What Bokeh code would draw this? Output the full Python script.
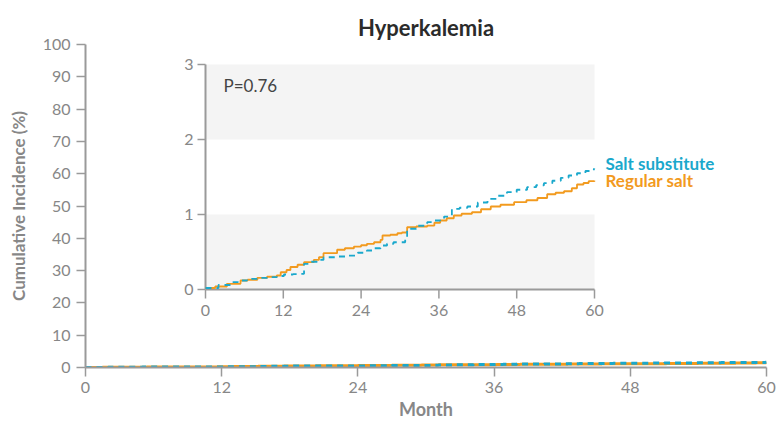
import math
from bokeh.plotting import figure
from bokeh.models import Range1d, Label
from bokeh.core.properties import value
from bokeh.embed import file_html
from bokeh.resources import INLINE

# ---------------- data ----------------
title_text = "Hyperkalemia"
x_ticks = [0, 12, 24, 36, 48, 60]
y_ticks_main = [0, 10, 20, 30, 40, 50, 60, 70, 80, 90, 100]
y_ticks_inset = [0, 1, 2, 3]
inset_bands_bottom = [0, 2]
inset_bands_top = [1, 3]

regular_month = [0, 1.5, 3.3, 5.4, 6.5, 8, 9.5, 11, 11.6, 12.5, 13.1, 14.2, 15.2, 16.7,
                 17.5, 18.2, 20.3, 21.5, 22.9, 24.0, 24.9, 26, 27, 27.3, 28.5, 29.6,
                 30.3, 31.1, 32.5, 34.2, 35.3, 36.2, 37.2, 38.3, 39.5, 41.1, 42.5, 44,
                 45.5, 47.6, 49.5, 51.2, 52.7, 54, 55.3, 56.5, 57.3, 58.3, 59.1, 60]
regular_pct = [0.02, 0.04, 0.076, 0.12, 0.13, 0.156, 0.17, 0.187, 0.23, 0.26, 0.30, 0.33,
               0.364, 0.395, 0.43, 0.484, 0.53, 0.55, 0.573, 0.59, 0.609, 0.63, 0.662,
               0.72, 0.73, 0.75, 0.76, 0.83, 0.84, 0.853, 0.89, 0.92, 0.95, 0.987, 1.01,
               1.03, 1.07, 1.107, 1.13, 1.164, 1.19, 1.22, 1.27, 1.29, 1.31, 1.35, 1.40,
               1.42, 1.444, 1.45]

substitute_month = [0, 2, 3.9, 5, 6.4, 8, 9.5, 11, 12.1, 13.5, 14.7, 15.2, 16.2, 17.2,
                    18.2, 20, 21.9, 23.5, 24.9, 26, 27, 28, 29, 30.8, 31.1, 32.5, 34.2,
                    35.2, 36.2, 36.8, 38, 39.2, 40.4, 42, 43.5, 45, 46.5, 48, 49.6, 51,
                    52.2, 53.5, 54.8, 56, 57.3, 58.6, 59.9, 60]
substitute_pct = [0.02, 0.06, 0.098, 0.12, 0.142, 0.155, 0.164, 0.18, 0.2, 0.205, 0.209,
                  0.342, 0.37, 0.395, 0.43, 0.44, 0.453, 0.49, 0.52, 0.55, 0.587, 0.61,
                  0.63, 0.676, 0.81, 0.85, 0.898, 0.92, 0.942, 0.973, 1.076, 1.09, 1.107,
                  1.16, 1.209, 1.25, 1.298, 1.33, 1.364, 1.39, 1.418, 1.45, 1.489, 1.52,
                  1.55, 1.58, 1.609, 1.61]

p_value_text = "P=0.76"
series_names = ["Salt substitute", "Regular salt"]

# ---------------- style ----------------
FONT = "Lato"
GREY = "#878787"
AXIS_GREY = "#9a9a9a"
CYAN = "#1aa8cc"
ORANGE = "#f29a1e"
BAND = "#f4f4f4"

W, H = 783, 423
ML, MR, MT, MB = 85, 17, 44, 56
frame_w = W - ML - MR
frame_h = H - MT - MB

# inset placement in frame pixels (from frame left / frame bottom)
inset_x0_px, inset_x1_px = 120, 509      # month 0 .. 60
inset_y0_px, inset_y1_px = 78, 303       # 0 .. 3 %

ix_scale = (inset_x1_px - inset_x0_px) / 60.0
iy_scale = (inset_y1_px - inset_y0_px) / 3.0
ix_start = -inset_x0_px / ix_scale
ix_end = (frame_w - inset_x0_px) / ix_scale
iy_start = -inset_y0_px / iy_scale
iy_end = (frame_h - inset_y0_px) / iy_scale

p = figure(width=W, height=H, output_backend="svg", toolbar_location=None,
           x_range=Range1d(0, 60), y_range=Range1d(0, 100),
           min_border_left=ML, min_border_right=MR, min_border_top=MT,
           min_border_bottom=MB, outline_line_color=None)
p.extra_x_ranges = {"ix": Range1d(ix_start, ix_end)}
p.extra_y_ranges = {"iy": Range1d(iy_start, iy_end)}

p.title.text = title_text
p.title.align = "center"
p.title.text_font = FONT
p.title.text_font_size = "22px"
p.title.text_font_style = "bold"
p.title.text_color = "#2b2b2b"
p.title.text_line_height = 0.7
p.title.standoff = 8

p.grid.visible = False
p.background_fill_color = "white"

for ax in (p.xaxis[0], p.yaxis[0]):
    ax.axis_line_color = AXIS_GREY
    ax.axis_line_width = 2
    ax.major_tick_line_color = AXIS_GREY
    ax.major_tick_line_width = 1.5
    ax.major_tick_out = 9
    ax.major_tick_in = 0
    ax.minor_tick_line_color = None
    ax.major_label_text_font = FONT
    ax.major_label_text_font_size = "16px"
    ax.major_label_text_color = GREY
    ax.major_label_text_line_height = 1.0
    ax.axis_label_text_font = FONT
    ax.axis_label_text_font_style = "bold"
    ax.axis_label_text_color = GREY
    ax.axis_label_text_line_height = 1.0

p.xaxis.axis_label_text_font_size = "18px"
p.yaxis.axis_label_text_font_size = "17px"
p.xaxis.ticker = x_ticks
p.yaxis.ticker = y_ticks_main
p.xaxis.axis_label = "Month"
p.yaxis.axis_label = "Cumulative Incidence (%)"
p.xaxis.major_label_standoff = 5
p.xaxis.axis_label_standoff = 2
p.yaxis.major_label_standoff = 6
p.yaxis.axis_label_standoff = 11

# main-plot curves (near zero on the 0-100 scale)
p.step(regular_month, regular_pct, mode="after", line_color=ORANGE, line_width=3)
p.step(substitute_month, substitute_pct, mode="after", line_color=CYAN, line_width=3,
       line_dash="6 5")

# ---------------- inset ----------------
p.quad(left=[0, 0], right=[60, 60], bottom=inset_bands_bottom, top=inset_bands_top,
       fill_color=BAND, line_color=None, x_range_name="ix", y_range_name="iy")

# inset axis lines
p.segment(x0=[0, 0], y0=[0, 0], x1=[60, 0], y1=[0, 3], line_color=AXIS_GREY,
          line_width=2, x_range_name="ix", y_range_name="iy")
# inset ticks
p.ray(x=x_ticks, y=[0] * len(x_ticks), length=9, length_units="screen",
      angle=-math.pi / 2, line_color=AXIS_GREY, line_width=1.5,
      x_range_name="ix", y_range_name="iy")
p.ray(x=[0] * len(y_ticks_inset), y=y_ticks_inset, length=8, length_units="screen",
      angle=math.pi, line_color=AXIS_GREY, line_width=1.5,
      x_range_name="ix", y_range_name="iy")
# inset tick labels
p.text(x=x_ticks, y=[0] * len(x_ticks), text=[str(t) for t in x_ticks],
       y_offset=15, text_align="center", text_baseline="top",
       text_font=value(FONT), text_font_size="16px", text_color=GREY,
       x_range_name="ix", y_range_name="iy")
p.text(x=[0] * len(y_ticks_inset), y=y_ticks_inset, text=[str(t) for t in y_ticks_inset],
       x_offset=-12, text_align="right", text_baseline="middle",
       text_font=value(FONT), text_font_size="16px", text_color=GREY,
       x_range_name="ix", y_range_name="iy")

# inset curves
p.step(regular_month, regular_pct, mode="after", line_color=ORANGE, line_width=1.8,
       x_range_name="ix", y_range_name="iy")
p.step(substitute_month, substitute_pct, mode="after", line_color=CYAN, line_width=1.8,
       line_dash="6 5", x_range_name="ix", y_range_name="iy")

p.add_layout(Label(x=0, y=3, x_offset=18, y_offset=-21, text=p_value_text,
                   x_range_name="ix", y_range_name="iy", text_font=FONT,
                   text_font_size="17px", text_color="#444444",
                   text_baseline="middle", text_align="left"))

p.add_layout(Label(x=60, y=substitute_pct[-1], x_offset=11, y_offset=5,
                   text=series_names[0], x_range_name="ix", y_range_name="iy",
                   text_font=FONT, text_font_size="17px", text_font_style="bold",
                   text_color=CYAN, text_baseline="middle", text_align="left"))
p.add_layout(Label(x=60, y=regular_pct[-1], x_offset=11, y_offset=0,
                   text=series_names[1], x_range_name="ix", y_range_name="iy",
                   text_font=FONT, text_font_size="17px", text_font_style="bold",
                   text_color=ORANGE, text_baseline="middle", text_align="left"))

open("out.html", "w").write(file_html(p, INLINE))
